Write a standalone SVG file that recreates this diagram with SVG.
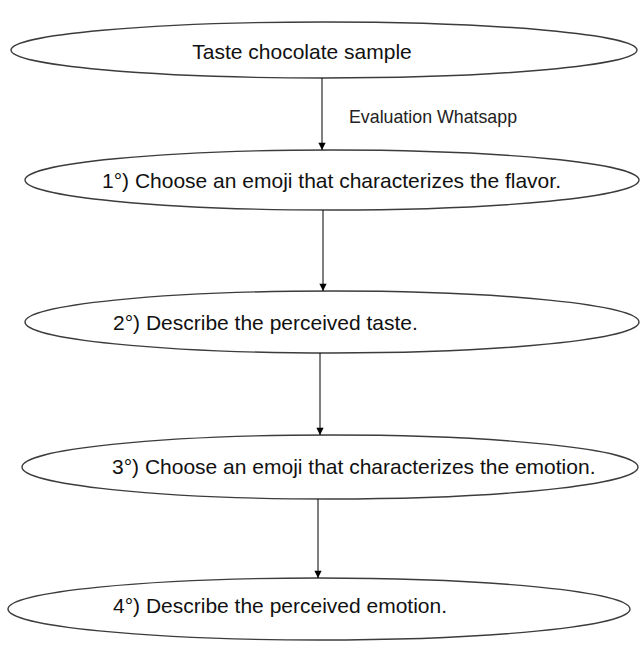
<svg xmlns="http://www.w3.org/2000/svg" width="640" height="670" viewBox="0 0 640 670">
<style>
.node ellipse{fill:#fff;stroke:#3c3c3c;stroke-width:1.4}
.node text{font-family:"Liberation Sans",Arial,sans-serif;font-size:21px;fill:#111}
.lbl{font-family:"Liberation Sans",Arial,sans-serif;font-size:17.8px;fill:#222}
.conn line{stroke:#000;stroke-width:1}
</style>
<defs>
<marker id="ah" viewBox="0 0 8 10" refX="8" refY="5" markerWidth="8" markerHeight="9" markerUnits="userSpaceOnUse" orient="auto">
<path d="M0,1 L8,5 L0,9 Z" fill="#000"/>
</marker>
</defs>
<rect width="640" height="670" fill="#fff"/>
<g id="n0" class="node"><ellipse cx="324" cy="50" rx="313" ry="28"/><text x="302" y="59" text-anchor="middle">Taste chocolate sample</text></g>
<g id="n1" class="node"><ellipse cx="332" cy="180" rx="307" ry="30"/><text x="102" y="188">1°) Choose an emoji that characterizes the flavor.</text></g>
<g id="n2" class="node"><ellipse cx="332" cy="322" rx="307" ry="31"/><text x="113" y="330">2°) Describe the perceived taste.</text></g>
<g id="n3" class="node"><ellipse cx="330" cy="467" rx="308" ry="32"/><text x="112" y="474">3°) Choose an emoji that characterizes the emotion.</text></g>
<g id="n4" class="node"><ellipse cx="319" cy="609" rx="311" ry="31"/><text x="113" y="613">4°) Describe the perceived emotion.</text></g>
<g id="connectors" class="conn">
<line x1="322" y1="78" x2="322" y2="150" marker-end="url(#ah)"/>
<line x1="323" y1="210" x2="323" y2="291" marker-end="url(#ah)"/>
<line x1="320" y1="353" x2="320" y2="435" marker-end="url(#ah)"/>
<line x1="318" y1="499" x2="318" y2="578" marker-end="url(#ah)"/>
<text class="lbl" x="349" y="123">Evaluation Whatsapp</text>
</g>
</svg>
